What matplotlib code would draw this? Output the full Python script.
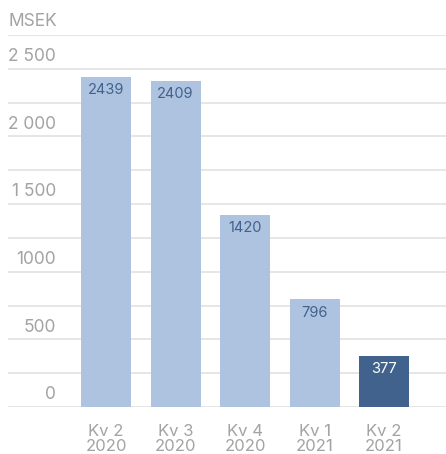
import matplotlib.pyplot as plt

# data
categories = ["Kv 2\n2020", "Kv 3\n2020", "Kv 4\n2020", "Kv 1\n2021", "Kv 2\n2021"]
values = [2439, 2409, 1420, 796, 377]
value_labels = ["2439", "2409", "1420", "796", "377"]
highlight = [False, False, False, False, True]

grid_values = [0, 250, 500, 750, 1000, 1250, 1500, 1750, 2000, 2250, 2500, 2750]
ytick_values = [0, 500, 1000, 1500, 2000, 2500]
ytick_labels = ["0", "500", "1000", "1 500", "2 000", "2 500"]

LIGHT = "#adc3df"
DARK = "#41628c"
GRAY = "#a3a3a3"
GRID = "#e2e2e2"

plt.rcParams["font.family"] = ["Inter", "DejaVu Sans"]

W, H = 446, 454
fig = plt.figure(figsize=(W / 100, H / 100), dpi=100)
ax = fig.add_axes([8 / W, (H - 407) / H, 1 - 8 / W, (407 - 35) / H])

ax.set_xlim(-1.41, 4.89)
ax.set_ylim(0, 2750)
for s in ax.spines.values():
    s.set_visible(False)
ax.set_yticks([])
ax.tick_params(axis="x", length=0, pad=12, labelsize=12, labelcolor=GRAY)

for g in grid_values:
    ax.axhline(g, color=GRID, lw=1.2, zorder=0)

x = list(range(len(categories)))
colors = [DARK if h else LIGHT for h in highlight]
ax.bar(x, values, width=0.72, color=colors, zorder=2)
ax.set_xticks(x)
ax.set_xticklabels(categories, linespacing=1.02)

for xi, v, lab, h in zip(x, values, value_labels, highlight):
    ax.annotate(lab, xy=(xi, v), xytext=(0, -9.5), textcoords="offset points",
                ha="center", va="center", fontsize=10.5,
                color="white" if h else DARK, zorder=3)

for v, lab in zip(ytick_values, ytick_labels):
    ax.annotate(lab, xy=(0, v), xycoords=ax.get_yaxis_transform(),
                xytext=(34.5, 8.8), textcoords="offset points",
                ha="right", va="center", fontsize=12.5, color=GRAY)

fig.text(9 / W, 1 - 22 / H, "MSEK", ha="left", va="center",
         fontsize=12.5, color=GRAY)

fig.savefig("out.png", dpi=100)
